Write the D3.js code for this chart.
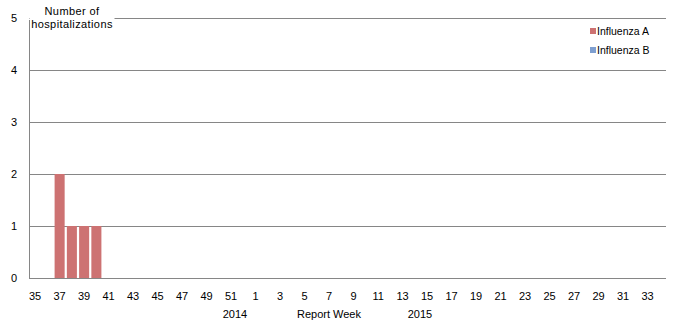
<!DOCTYPE html>
<html>
<head>
<meta charset="utf-8">
<script src="https://cdn.jsdelivr.net/npm/d3@7"></script>
<style>
  body { margin: 0; background: #fff; }
  text { font-family: "Liberation Sans", Arial, sans-serif; fill: #000; }
</style>
</head>
<body>
<div id="viz"></div>
<script>
// report weeks: 35..52 of 2014, then 1..34 of 2015
const weeks = d3.range(35, 53).concat(d3.range(1, 35));
const fluA = [0, 0, 2, 1, 1, 1].concat(new Array(46).fill(0));
const fluB = new Array(52).fill(0);
const seriesNames = ["Influenza A", "Influenza B"];
const yTicks = [0, 1, 2, 3, 4, 5];

const W = 680, H = 323;
const margin = {top: 18, right: 14, bottom: 45, left: 29};
const width = W - margin.left - margin.right,
      height = H - margin.top - margin.bottom;

const svg = d3.select("#viz").append("svg")
  .attr("width", W).attr("height", H);
const g = svg.append("g")
  .attr("transform", "translate(" + margin.left + "," + margin.top + ")");

const x = d3.scaleBand().domain(d3.range(weeks.length)).range([0, width]).paddingInner(0.18).paddingOuter(0.09);
const y = d3.scaleLinear().domain([0, 5]).range([height, 0]);
const color = d3.scaleOrdinal().domain(seriesNames).range(["#CD7272", "#7F9FD0"]);

// gridlines
g.selectAll(".grid").data(yTicks).enter().append("line")
  .attr("x1", 0).attr("x2", width)
  .attr("y1", d => y(d) + 0.5).attr("y2", d => y(d) + 0.5)
  .attr("stroke", "#868686").attr("stroke-width", 1);

// y tick labels
g.selectAll(".ylab").data(yTicks).enter().append("text")
  .attr("x", -15).attr("y", d => y(d) + 4)
  .attr("text-anchor", "middle").style("font-size", "11px")
  .text(d => d);

// bars (B is all zero, stacked on top of A)
g.selectAll(".barA").data(fluA).enter().append("rect")
  .attr("x", (d, i) => x(i)).attr("width", x.bandwidth())
  .attr("y", d => y(d)).attr("height", d => y(0) - y(d))
  .attr("fill", color("Influenza A"));
g.selectAll(".barB").data(fluB).enter().append("rect")
  .attr("x", (d, i) => x(i)).attr("width", x.bandwidth())
  .attr("y", (d, i) => y(d + fluA[i])).attr("height", (d, i) => y(fluA[i]) - y(d + fluA[i]))
  .attr("fill", color("Influenza B"));

// title box covering the top gridline
g.append("rect").attr("x", 0.5).attr("y", -18).attr("width", 85).attr("height", 26).attr("fill", "#fff");

// y axis line
g.append("line").attr("x1", 0.5).attr("x2", 0.5).attr("y1", 2).attr("y2", height + 0.5)
  .attr("stroke", "#868686");

// x tick labels every second week
g.selectAll(".xlab").data(weeks).enter().filter((d, i) => i % 2 === 0).append("text")
  .attr("x", (d, i) => x(i * 2) + x.bandwidth() / 2)
  .attr("y", height + 22)
  .attr("text-anchor", "middle").style("font-size", "11px")
  .text(d => d);

// axis title
const title = g.append("text").attr("text-anchor", "middle").style("font-size", "11px")
  .style("letter-spacing", "0.4px");
title.append("tspan").attr("x", 43).attr("y", -3).text("Number  of");
title.append("tspan").attr("x", 43).attr("y", 10).text("hospitalizations");

// bottom labels
svg.append("text").attr("x", 235).attr("y", 318).attr("text-anchor", "middle").style("font-size", "11px").text("2014");
svg.append("text").attr("x", 329).attr("y", 318).attr("text-anchor", "middle").style("font-size", "11px").text("Report Week");
svg.append("text").attr("x", 420).attr("y", 318).attr("text-anchor", "middle").style("font-size", "11px").text("2015");

// legend
const legend = svg.selectAll(".leg").data(seriesNames).enter().append("g")
  .attr("transform", (d, i) => "translate(590," + (28 + i * 19) + ")");
legend.append("rect").attr("width", 6).attr("height", 6).attr("fill", d => color(d));
legend.append("text").attr("x", 7).attr("y", 7).style("font-size", "10.5px").text(d => d);
</script>
</body>
</html>
